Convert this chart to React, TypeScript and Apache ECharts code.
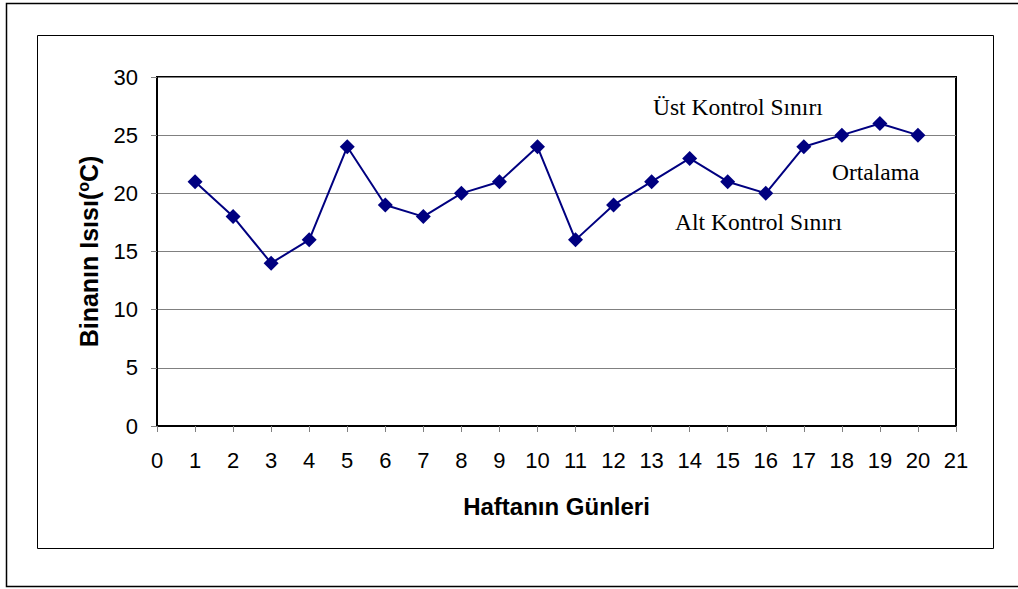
import React, { useEffect, useRef } from "react";
import * as echarts from "echarts";

const days = [1, 2, 3, 4, 5, 6, 7, 8, 9, 10, 11, 12, 13, 14, 15, 16, 17, 18, 19, 20];
const temps = [21, 18, 14, 16, 24, 19, 18, 20, 21, 24, 16, 19, 21, 23, 21, 20, 24, 25, 26, 25];
const annotations = [
  { text: "Üst Kontrol Sınırı", x: 653, y: 95 },
  { text: "Ortalama", x: 832, y: 160 },
  { text: "Alt Kontrol Sınırı", x: 675, y: 210 },
];

export default function App() {
  const ref = useRef<HTMLDivElement>(null);
  useEffect(() => {
    if (!ref.current) return;
    const chart = echarts.init(ref.current, null, { renderer: "svg" });
    const sans = "'Liberation Sans', Arial, sans-serif";
    const serif = "'Liberation Serif', 'Times New Roman', serif";
    chart.setOption({
      animation: false,
      backgroundColor: "#ffffff",
      grid: {
        left: 157,
        top: 77,
        width: 799,
        height: 349,
        show: true,
        borderColor: "#000000",
        borderWidth: 2,
        backgroundColor: "transparent",
      },
      xAxis: {
        type: "value",
        min: 0,
        max: 21,
        interval: 1,
        name: "Haftanın Günleri",
        nameLocation: "middle",
        nameGap: 68,
        nameTextStyle: { fontFamily: sans, fontSize: 24, fontWeight: "bold", color: "#000" },
        axisLine: { show: true, lineStyle: { color: "#000", width: 2 } },
        axisTick: { show: true, length: 6, lineStyle: { color: "#808080", width: 1 } },
        axisLabel: { fontFamily: sans, fontSize: 22, color: "#000", margin: 23 },
        splitLine: { show: false },
      },
      yAxis: {
        type: "value",
        min: 0,
        max: 30,
        interval: 5,
        name: "{a|Binanın Isısı(}{s|o}{a|C)}",
        nameLocation: "middle",
        nameRotate: 90,
        nameGap: 56,
        nameTextStyle: {
          rich: {
            a: { fontFamily: sans, fontSize: 25, fontWeight: "bold", color: "#000", verticalAlign: "bottom" },
            s: { fontFamily: sans, fontSize: 16, fontWeight: "bold", color: "#000", verticalAlign: "top", padding: [0, 0, 10, 0] },
          },
        },
        axisLine: { show: true, lineStyle: { color: "#000", width: 2 } },
        axisTick: { show: true, length: 6, lineStyle: { color: "#808080", width: 1 } },
        axisLabel: { fontFamily: sans, fontSize: 22, color: "#000", margin: 19 },
        splitLine: { show: true, lineStyle: { color: "#808080", width: 1 } },
      },
      series: [
        {
          type: "line",
          data: days.map((d, i) => [d, temps[i]]),
          symbol: "diamond",
          symbolSize: 15,
          showSymbol: true,
          lineStyle: { color: "#000080", width: 2 },
          itemStyle: { color: "#000080" },
        },
      ],
      graphic: [
        {
          type: "rect",
          shape: { x: 6.5, y: 3.5, width: 1040, height: 583 },
          style: { fill: "none", stroke: "#000", lineWidth: 1.5 },
          silent: true,
        },
        {
          type: "rect",
          shape: { x: 37.5, y: 35.5, width: 956, height: 513 },
          style: { fill: "none", stroke: "#000", lineWidth: 1 },
          silent: true,
        },
        ...annotations.map((a) => ({
          type: "text",
          x: a.x,
          y: a.y,
          style: {
            text: a.text,
            fontFamily: serif,
            fontSize: 23.5,
            fill: "#000",
            align: "left",
            verticalAlign: "top",
          },
          silent: true,
        })),
      ],
    });
    return () => chart.dispose();
  }, []);
  return (
    <div
      ref={ref}
      style={{ position: "fixed", left: 0, top: 0, width: 1018, height: 589 }}
    />
  );
}
